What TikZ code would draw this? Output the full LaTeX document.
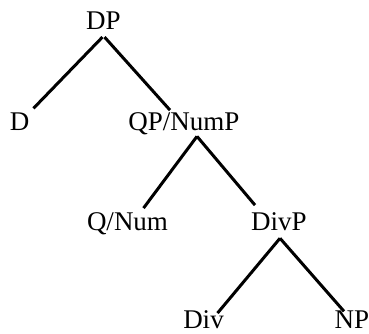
\documentclass[tikz,border=0pt]{standalone}
\usepackage{fontspec}
\setmainfont{Liberation Serif}
\begin{document}
\begin{tikzpicture}[x=1pt,y=-1pt,
  lab/.style={anchor=base,inner sep=4pt,outer sep=0pt,font=\fontsize{27}{30}\selectfont},
  edge/.style={line width=3pt}]
\useasboundingbox (0,0) rectangle (369,334);
\node[lab] (DP) at (103.5,30) {DP};
\node[lab] (D) at (19.5,130) {D};
\node[lab] (QP) at (184,130) {QP/NumP};
\node[lab] (Q) at (127.5,230) {Q/Num};
\node[lab] (DivP) at (279,230) {DivP};
\node[lab] (Div) at (203.5,328) {Div};
\node[lab] (NP) at (352,328) {NP};
\draw[edge] ([xshift=-1pt,yshift=-3pt]DP.south) -- ([xshift=14pt]D.north);
\draw[edge] ([xshift=1pt,yshift=-3pt]DP.south) -- ([xshift=-14pt,yshift=-2pt]QP.north);
\draw[edge] ([xshift=13pt,yshift=2pt]QP.south) -- ([xshift=16pt]Q.north);
\draw[edge] ([xshift=13pt,yshift=2pt]QP.south) -- ([xshift=-24pt,yshift=3pt]DivP.north);
\draw[edge] ([xshift=1pt,yshift=-4pt]DivP.south) -- ([xshift=14pt,yshift=-7pt]Div.north);
\draw[edge] ([xshift=1pt,yshift=-4pt]DivP.south) -- ([xshift=-8pt,yshift=-5pt]NP.north);
\end{tikzpicture}
\end{document}
